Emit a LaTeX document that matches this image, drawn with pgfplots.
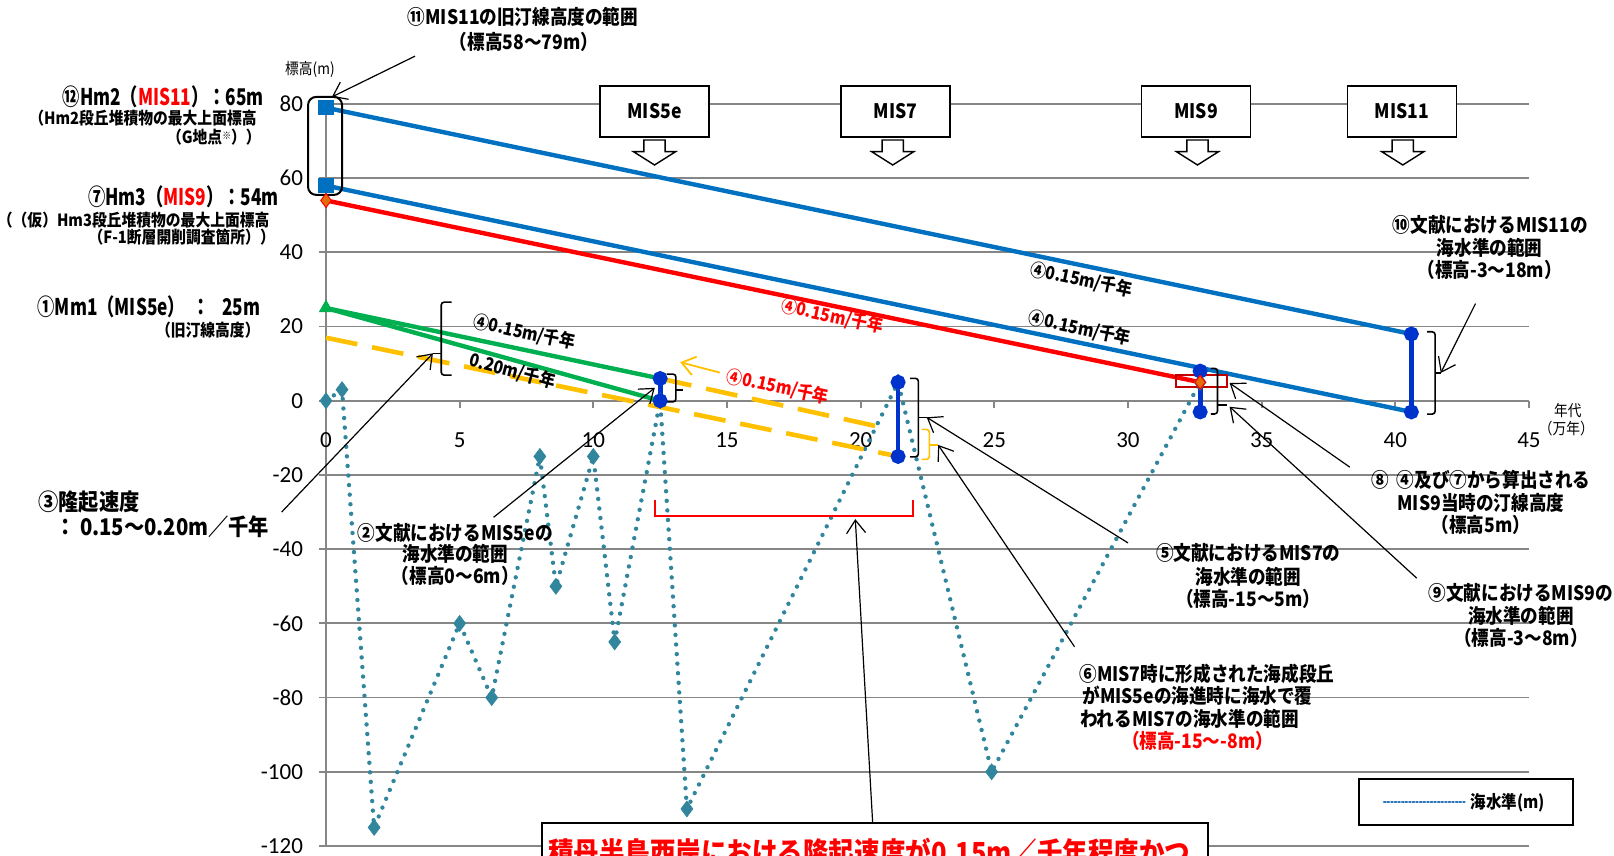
\documentclass[border=0pt]{standalone}
\usepackage{fontspec}
\usepackage{pgfplots}
\pgfplotsset{compat=1.18}
\usetikzlibrary{arrows.meta}
\setmainfont{Noto Sans CJK JP}[FakeStretch=0.88]
\newfontfamily\jpc{Noto Sans CJK JP}[FakeStretch=0.75]
\newfontfamily\tickfont{Carlito}
\definecolor{mblue}{HTML}{0070C0}
\definecolor{mred}{HTML}{FF0000}
\definecolor{mgreen}{HTML}{00B050}
\definecolor{myellow}{HTML}{FFC000}
\definecolor{vbar}{HTML}{0033CC}
\definecolor{sea}{HTML}{31859C}
\definecolor{gridgray}{HTML}{868686}
\definecolor{morange}{HTML}{E46C0A}
\definecolor{darkred}{HTML}{C00000}
\definecolor{legblue}{HTML}{2E75B6}
\tikzset{
 J/.style={inner sep=0pt, font=\bfseries\fontsize{10}{12}\selectfont},
 Jbig/.style={inner sep=0pt, font=\jpc\bfseries\fontsize{11.5}{13}\selectfont},
 Jmid/.style={inner sep=0pt, font=\bfseries\fontsize{11.5}{13}\selectfont},
 Jsm/.style={inner sep=0pt, font=\bfseries\fontsize{8.4}{10}\selectfont},
 Jrate/.style={inner sep=0pt, font=\bfseries\fontsize{9}{10}\selectfont},
 Jreg/.style={inner sep=0pt, font=\fontsize{7.8}{9}\selectfont},
 bk/.style={line width=0.8pt, rounded corners=1.5pt},
 arr/.style={black, line width=0.6pt, -{Straight Barb[length=6.5pt,width=9.5pt]}},
 dnarrow/.style={draw=black, fill=white, line width=0.7pt},
}
\begin{document}
\begin{tikzpicture}
\begin{axis}[
 scale only axis, width=601.5pt, height=371pt,
 at={(0,0)}, anchor=south west,
 xmin=0, xmax=45, ymin=-120, ymax=80,
 axis x line*=middle, axis y line*=left,
 axis line style={draw=gridgray, line width=0.9pt},
 xtick={0,5,...,45}, ytick={-120,-100,...,80},
 xticklabels={0,5,10,15,20,25,30,35,40,45},
 yticklabels={-120,-100,-80,-60,-40,-20,0,20,40,60,80},
 tick align=outside, major tick length=3.5pt,
 tick style={draw=gridgray, line width=0.9pt},
 ymajorgrids, grid style={draw=gridgray, line width=0.9pt},
 ticklabel style={font=\tickfont\fontsize{11.5}{12}\selectfont, text=black},
 xticklabel style={yshift=-9pt},
 yticklabel style={xshift=-4.5pt},
 hide obscured x ticks=false, hide obscured y ticks=false,
 clip=false,
 legend style={at={(axis cs:38.6,-101.7)}, anchor=north west, draw=black, line width=1pt,
   inner xsep=12pt, inner ysep=5pt, font=\bfseries\fontsize{8.8}{10}\selectfont,
   /tikz/every even column/.append style={column sep=7pt}},
 legend image code/.code={\draw[legblue, line width=0.9pt, dash pattern=on 0.9pt off 0.9pt] (0pt,0pt) -- (41pt,0pt);},
]
% sea level
\addplot[sea, line width=2.2pt, dash pattern=on 0pt off 4.8pt, line cap=round,
  mark=diamond*, mark size=4pt, mark options={solid, fill=sea, draw=sea, line width=0.3pt}]
  coordinates {(0,0) (0.6,3) (1.8,-115) (5,-60) (6.2,-80) (8,-15) (8.6,-50) (10,-15) (10.8,-65) (12.5,0) (13.5,-110) (21.4,5) (24.9,-100) (32.7,5)};
\addlegendentry{海水準(m)}
% uplift lines
\addplot[mblue, line width=2.2pt, mark=square*, mark indices={1}, mark size=2.7pt, mark options={solid}] coordinates {(0,79) (40.6,18)};
\addplot[mblue, line width=2.2pt, mark=square*, mark indices={1}, mark size=2.7pt, mark options={solid}] coordinates {(0,58) (40.6,-3)};
\addplot[mred, line width=2.2pt] coordinates {(0,54) (32.7,5)};
\addplot[mgreen, line width=2.2pt] coordinates {(0,25) (12.5,6)};
\addplot[mgreen, line width=2.2pt] coordinates {(0,25) (12.5,0)};
\addplot[myellow, line width=2.3pt, dash pattern=on 16pt off 7.5pt] coordinates {(12.5,6) (21.0,-7.5)};
\addplot[myellow, line width=2.3pt, dash pattern=on 16pt off 7.5pt] coordinates {(0,17) (21.4,-15)};
% sea level ranges
\addplot[vbar, line width=2.4pt, mark=*, mark size=2.5pt] coordinates {(12.5,0) (12.5,6)};
\addplot[vbar, line width=2.4pt, mark=*, mark size=2.5pt] coordinates {(21.4,-15) (21.4,5)};
\addplot[vbar, line width=2.4pt, mark=*, mark size=2.5pt] coordinates {(32.7,-3) (32.7,8)};
\addplot[vbar, line width=2.4pt, mark=*, mark size=2.5pt] coordinates {(40.6,-3) (40.6,18)};
% markers
\addplot[only marks, mark=diamond*, mark size=3.5pt, mark options={fill=morange, draw=mred, line width=0.5pt}] coordinates {(0,54) (32.7,5)};
\addplot[only marks, mark=triangle*, mark size=3.8pt, mgreen] coordinates {(0,25)};

% red box around MIS9 shoreline
\draw[darkred, line width=0.8pt] (axis cs:31.8,3.7) rectangle (axis cs:33.7,7.0);
% rounded box at origin
\draw[line width=1pt, rounded corners=4pt] (axis cs:-0.67,55.5) rectangle (axis cs:0.6,81.9);

% braces
\draw[bk] (axis cs:4.70,26.6) -- (axis cs:4.31,26.6) -- (axis cs:4.31,6.9) -- (axis cs:4.70,6.9);
\draw[bk] (axis cs:4.31,12.8) -- (axis cs:4.0,12.8);
\draw[bk] (axis cs:12.74,7.2) -- (axis cs:13.09,7.2) -- (axis cs:13.09,-0.3) -- (axis cs:12.74,-0.3);
\draw[bk] (axis cs:13.09,2.9) -- (axis cs:13.37,2.9);
\draw[bk] (axis cs:21.85,6.06) -- (axis cs:22.16,6.06) -- (axis cs:22.16,-15.1) -- (axis cs:21.85,-15.1);
\draw[bk] (axis cs:22.16,-4.45) -- (axis cs:22.47,-4.45);
\draw[bk, myellow] (axis cs:22.28,-7.7) -- (axis cs:22.57,-7.7) -- (axis cs:22.57,-15.8) -- (axis cs:22.28,-15.8);
\draw[bk, myellow] (axis cs:22.57,-11.9) -- (axis cs:22.9,-11.9);
\draw[bk] (axis cs:33.1,8.75) -- (axis cs:33.35,8.75) -- (axis cs:33.35,-3.56) -- (axis cs:33.1,-3.56);
\draw[bk] (axis cs:33.35,-1.1) -- (axis cs:33.7,-1.1);
\draw[bk] (axis cs:41.19,18.6) -- (axis cs:41.49,18.6) -- (axis cs:41.49,-3.6) -- (axis cs:41.19,-3.6);
\draw[bk] (axis cs:41.49,7.5) -- (axis cs:41.7,7.5);
% red bracket
\draw[mred, line width=1pt] (axis cs:12.31,-26.7) -- (axis cs:12.31,-31) -- (axis cs:21.95,-31) -- (axis cs:21.95,-26.7);

% arrows
\draw[arr] (axis cs:3.33,92.9) -- (axis cs:0.22,81.9);
\draw[arr] (axis cs:-1.66,-30.0) -- (axis cs:4.0,12.8);
\draw[arr] (axis cs:6.27,-31.4) -- (axis cs:12.3,3.5);
\draw[arr] (axis cs:20.45,-113.8) -- (axis cs:19.8,-31.9);
\draw[arr] (axis cs:30.0,-38.3) -- (axis cs:22.47,-4.45);
\draw[arr] (axis cs:28.0,-66.3) -- (axis cs:22.9,-11.9);
\draw[arr] (axis cs:38.3,-17.9) -- (axis cs:33.8,4.8);
\draw[arr] (axis cs:40.8,-47.8) -- (axis cs:33.8,-1.6);
\draw[arr] (axis cs:43.0,26.2) -- (axis cs:41.7,7.5);
\draw[myellow, line width=0.9pt, -{Straight Barb[length=6.5pt,width=9.5pt]}] (axis cs:14.73,7.6) -- (axis cs:13.25,10.4);

% block arrows at left
\draw[fill=white, line width=0.8pt] (axis cs:-1.98,54.1) ++(0,2.5pt) -- ++(14.2pt,0) -- ++(0,3.25pt) -- ++(6.6pt,-5.75pt) -- ++(-6.6pt,-5.75pt) -- ++(0,3.25pt) -- ++(-14.2pt,0) -- cycle;
\draw[fill=white, line width=0.8pt] (axis cs:-1.98,24.9) ++(0,2.5pt) -- ++(14.2pt,0) -- ++(0,3.25pt) -- ++(6.6pt,-5.75pt) -- ++(-6.6pt,-5.75pt) -- ++(0,3.25pt) -- ++(-14.2pt,0) -- cycle;
\draw[fill=white, line width=0.8pt, dash pattern=on 2pt off 1.5pt] (axis cs:-3.59,62.6) ++(0,3pt) -- ++(15.8pt,0) -- ++(0,1.75pt) -- ++(5.8pt,-4.75pt) -- ++(-5.8pt,-4.75pt) -- ++(0,1.75pt) -- ++(-15.8pt,0) -- cycle;

% MIS boxes
\node[draw, fill=white, line width=0.7pt, minimum width=54.5pt, minimum height=25.5pt, inner sep=0pt, font=\bfseries\fontsize{10}{12}\selectfont] at (axis cs:12.29,78.0) {MIS5e};
\node[draw, fill=white, line width=0.7pt, minimum width=54.5pt, minimum height=25.5pt, inner sep=0pt, font=\bfseries\fontsize{10}{12}\selectfont] at (axis cs:21.3,78.0) {MIS7};
\node[draw, fill=white, line width=0.7pt, minimum width=54.5pt, minimum height=25.5pt, inner sep=0pt, font=\bfseries\fontsize{10}{12}\selectfont] at (axis cs:32.55,78.0) {MIS9};
\node[draw, fill=white, line width=0.7pt, minimum width=54.5pt, minimum height=25.5pt, inner sep=0pt, font=\bfseries\fontsize{10}{12}\selectfont] at (axis cs:40.25,78.0) {MIS11};
% down arrows (open block arrows)
\draw[dnarrow] (axis cs:11.893,70.3) -- (axis cs:12.687,70.3) -- (axis cs:12.687,67.17) -- (axis cs:13.083,67.17) -- (axis cs:12.29,63.56) -- (axis cs:11.497,67.17) -- (axis cs:11.893,67.17) -- cycle;
\draw[dnarrow] (axis cs:20.803,70.3) -- (axis cs:21.597,70.3) -- (axis cs:21.597,67.17) -- (axis cs:21.993,67.17) -- (axis cs:21.2,63.56) -- (axis cs:20.407,67.17) -- (axis cs:20.803,67.17) -- cycle;
\draw[dnarrow] (axis cs:32.203,70.3) -- (axis cs:32.997,70.3) -- (axis cs:32.997,67.17) -- (axis cs:33.393,67.17) -- (axis cs:32.6,63.56) -- (axis cs:31.807,67.17) -- (axis cs:32.203,67.17) -- cycle;
\draw[dnarrow] (axis cs:39.883,70.3) -- (axis cs:40.677,70.3) -- (axis cs:40.677,67.17) -- (axis cs:41.073,67.17) -- (axis cs:40.28,63.56) -- (axis cs:39.487,67.17) -- (axis cs:39.883,67.17) -- cycle;

% left labels
\node[Jbig, anchor=east] at (axis cs:-2.31,81.9) {⑫Hm2（\textcolor{mred}{MIS11}）：65m};
\node[Jsm, anchor=east] at (axis cs:-2.58,76.2) {（Hm2段丘堆積物の最大上面標高};
\node[Jsm, anchor=east] at (axis cs:-2.43,71.1) {（G地点{\fontsize{5}{5}\selectfont\raisebox{2pt}{※}}））};
\node[Jbig, anchor=east] at (axis cs:-1.75,54.9) {⑦Hm3（\textcolor{mred}{MIS9}）：54m};
\node[Jsm, anchor=east] at (axis cs:-2.1,48.7) {（（仮）Hm3段丘堆積物の最大上面標高};
\node[Jsm, anchor=east] at (axis cs:-1.9,44.2) {（F-1断層開削調査箇所））};
\node[Jbig, anchor=east] at (axis cs:-2.45,25.3) {①Mm1（MIS5e）\ \ ：\ \ \ 25m};
\node[Jsm, anchor=east] at (axis cs:-2.47,19.1) {（旧汀線高度）};
\node[Jmid, anchor=west] at (axis cs:-10.77,-27.3) {③隆起速度};
\node[Jmid, anchor=west] at (axis cs:-10.14,-34.0) {：\ 0.15～0.20m／千年};
\node[Jreg] at (axis cs:-0.6,89.2) {標高(m)};
\node[Jreg] at (axis cs:46.45,-2.5) {年代};
\node[Jreg] at (axis cs:46.4,-7.6) {（万年）};

% top label
\node[J] at (axis cs:7.37,103.6) {⑪MIS11の旧汀線高度の範囲};
\node[J] at (axis cs:7.41,96.8) {（標高58～79m）};

% rate labels
\node[Jrate, rotate=-12] at (axis cs:7.42,18.4) {④0.15m/千年};
\node[Jrate, rotate=-15] at (axis cs:6.98,7.9) {0.20m/千年};
\node[Jrate, rotate=-12, text=mred] at (axis cs:16.9,3.7) {④0.15m/千年};
\node[Jrate, rotate=-12, text=mred] at (axis cs:18.93,22.75) {④0.15m/千年};
\node[Jrate, rotate=-12] at (axis cs:28.26,32.6) {④0.15m/千年};
\node[Jrate, rotate=-12] at (axis cs:28.2,19.5) {④0.15m/千年};

% literature labels
\node[J] at (axis cs:43.56,47.5) {⑩文献におけるMIS11の};
\node[J] at (axis cs:43.53,41.2) {海水準の範囲};
\node[J] at (axis cs:43.53,35.3) {（標高-3～18m）};
\node[J] at (axis cs:43.2,-21.3) {⑧\ \ ④及び⑦から算出される};
\node[J] at (axis cs:43.2,-27.6) {MIS9当時の汀線高度};
\node[J] at (axis cs:43.2,-33.5) {（標高5m）};
\node[J] at (axis cs:34.5,-41.1) {⑤文献におけるMIS7の};
\node[J] at (axis cs:34.5,-47.4) {海水準の範囲};
\node[J] at (axis cs:34.5,-53.4) {（標高-15～5m）};
\node[J] at (axis cs:44.7,-51.7) {⑨文献におけるMIS9の};
\node[J] at (axis cs:44.7,-57.9) {海水準の範囲};
\node[J] at (axis cs:44.7,-63.8) {（標高-3～8m）};
\node[J] at (axis cs:32.95,-73.7) {⑥MIS7時に形成された海成段丘};
\node[J] at (axis cs:32.6,-79.6) {がMIS5eの海進時に海水で覆};
\node[J] at (axis cs:32.3,-85.7) {われるMIS7の海水準の範囲};
\node[J, text=mred] at (axis cs:32.6,-91.7) {（標高-15～-8m）};
\node[J] at (axis cs:4.84,-35.5) {②文献におけるMIS5eの};
\node[J] at (axis cs:4.84,-41.3) {海水準の範囲};
\node[J] at (axis cs:4.84,-47.1) {（標高0～6m）};

% bottom box
\draw[fill=white, line width=1pt] (axis cs:8.07,-113.8) rectangle (axis cs:33.0,-140);
\node[inner sep=0pt, anchor=north west, text=mred, font=\bfseries\fontsize{14.5}{16}\selectfont] at (axis cs:8.3,-117.8) {積丹半島西岸における隆起速度が0.15m／千年程度かつ};
\end{axis}
\pgfresetboundingbox
\useasboundingbox (-163pt,-5pt) rectangle (644pt,423pt);
\end{tikzpicture}
\end{document}
